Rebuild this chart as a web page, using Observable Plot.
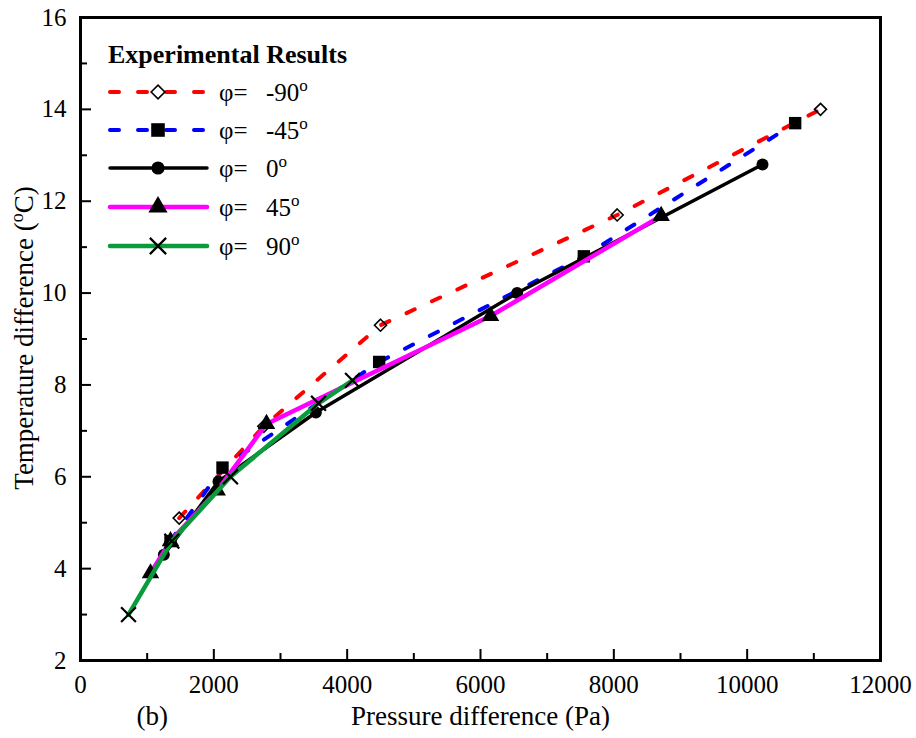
<!DOCTYPE html>
<html><head><meta charset="utf-8">
<script src="https://cdn.jsdelivr.net/npm/d3@7"></script>
<script src="https://cdn.jsdelivr.net/npm/@observablehq/plot@0.6"></script>
<style>body{margin:0;background:#fff}</style>
</head><body><div id="chart"></div>
<script>
// ---- data ----
const seriesLabels = ["-90", "-45", "0", "45", "90"];
const xN90 = [1480, 2750, 4500, 8050, 11100];
const yN90 = [5.1, 7.1, 9.3, 11.7, 14.0];
const xN45 = [1350, 2130, 4480, 7550, 10720];
const yN45 = [4.6, 6.2, 8.5, 10.8, 13.7];
const xZ0 = [1250, 2070, 3530, 6550, 10230];
const yZ0 = [4.3, 5.9, 7.4, 10.0, 12.8];
const xP45 = [1050, 1350, 2050, 2790, 6150, 8710];
const yP45 = [3.9, 4.6, 5.7, 7.15, 9.5, 11.68];
const xP90 = [720, 1370, 2250, 3570, 4080];
const yP90 = [3.0, 4.6, 6.0, 7.6, 8.1];
const majorX = [0, 2000, 4000, 6000, 8000, 10000, 12000];
const minorX = [1000, 3000, 5000, 7000, 9000, 11000];
const majorY = [2, 4, 6, 8, 10, 12, 14, 16];
const minorY = [3, 5, 7, 9, 11, 13, 15];
const legendTitle = "Experimental Results";
const xTitle = "Pressure difference (Pa)";
const panelTag = "(b)";

// ---- styles ----
const styles = [
  {color: "#ff0000", dash: "9,19", width: 4, symbol: "diamond2", fill: "none", stroke: "black", r: 5.4, sw: 1.6},
  {color: "#0000ff", dash: "9,19", width: 4, symbol: "square", fill: "black", stroke: "none", r: 7, sw: 0},
  {color: "#000000", dash: null, width: 3.5, symbol: "circle", fill: "black", stroke: "none", r: 6, sw: 0},
  {color: "#ff00ff", dash: null, width: 4.5, symbol: "triangle", fill: "black", stroke: "none", r: 6.5, sw: 0},
  {color: "#0a9b3c", dash: null, width: 4.5, symbol: "times", fill: "none", stroke: "black", r: 6.8, sw: 2.2}
];
const xsAll = [xN90, xN45, xZ0, xP45, xP90];
const ysAll = [yN90, yN45, yZ0, yP45, yP90];
const series = seriesLabels.map((lab, i) => xsAll[i].map((x, j) => ({s: lab, x, y: ysAll[i][j]})));

const W = 916, H = 738, mL = 80, mR = 36, mT = 17, mB = 78;
const pxPerY = (H - mT - mB) / 14;
const pxPerX = (W - mL - mR) / 12000;
const FONT = "'Liberation Serif', 'Times New Roman', serif";

const marks = [];
// ticks (inward)
marks.push(Plot.ruleX(majorX, {x: d => d, y1: 2, y2: 2 + 11 / pxPerY, stroke: "black", strokeWidth: 2}));
marks.push(Plot.ruleX(minorX, {x: d => d, y1: 2, y2: 2 + 7 / pxPerY, stroke: "black", strokeWidth: 2}));
marks.push(Plot.ruleY(majorY, {y: d => d, x1: 0, x2: 11 / pxPerX, stroke: "black", strokeWidth: 2}));
marks.push(Plot.ruleY(minorY, {y: d => d, x1: 0, x2: 7 / pxPerX, stroke: "black", strokeWidth: 2}));
marks.push(Plot.axisX({ticks: majorX, tickSize: 0, tickPadding: 15, fontSize: 25, label: null, tickFormat: d => String(d)}));
marks.push(Plot.axisY({ticks: majorY, tickSize: 0, tickPadding: 14, fontSize: 25, label: null, tickFormat: d => String(d)}));

series.forEach((data, i) => {
  const st = styles[i];
  marks.push(Plot.line(data, {x: "x", y: "y", stroke: st.color, strokeWidth: st.width,
    strokeDasharray: st.dash, strokeLinecap: "round", strokeLinejoin: "round"}));
  marks.push(Plot.dot(data, {x: "x", y: "y", symbol: () => st.symbol, r: st.r,
    fill: st.fill, stroke: st.stroke, strokeWidth: st.sw}));
});

marks.push(Plot.frame({stroke: "black", strokeWidth: 3}));
marks.push(Plot.text([xTitle], {text: d => d, frameAnchor: "bottom", dy: 64, fontSize: 27, fill: "black"}));
marks.push(Plot.text([panelTag], {text: d => d, frameAnchor: "bottom-left", dx: 56, dy: 64, fontSize: 27, fill: "black"}));

const chart = Plot.plot({
  width: W, height: H,
  marginLeft: mL, marginRight: mR, marginTop: mT, marginBottom: mB,
  x: {domain: [0, 12000], axis: null},
  y: {domain: [2, 16], axis: null},
  symbol: {type: "identity"},
  style: {fontFamily: FONT, background: "white", color: "black", overflow: "visible"},
  marks
});
document.getElementById("chart").appendChild(chart);

const svg = d3.select(chart);
// y-axis title with superscript
const yt = svg.append("text")
  .attr("transform", "translate(33,338) rotate(-90)")
  .attr("text-anchor", "middle")
  .attr("font-family", FONT).attr("font-size", 27).attr("fill", "black");
yt.append("tspan").text("Temperature difference (");
yt.append("tspan").attr("dy", -10).attr("font-size", 18).text("o");
yt.append("tspan").attr("dy", 10).text("C)");

// legend
const symMap = {diamond2: d3.symbolDiamond2, square: d3.symbolSquare, circle: d3.symbolCircle, triangle: d3.symbolTriangle, times: d3.symbolTimes};
const lg = svg.append("g").attr("font-family", FONT).attr("fill", "black").attr("text-anchor", "start");
lg.append("text").attr("x", 108).attr("y", 63).attr("font-size", 26).attr("font-weight", "bold").text(legendTitle);
const ly = [92, 130, 168, 207, 246];
seriesLabels.forEach((lab, i) => {
  const st = styles[i], y = ly[i];
  lg.append("line").attr("x1", 110).attr("x2", 207).attr("y1", y).attr("y2", y)
    .attr("stroke", st.color).attr("stroke-width", st.width)
    .attr("stroke-dasharray", st.dash).attr("stroke-linecap", "round");
  lg.append("path").attr("transform", `translate(158,${y})`)
    .attr("d", d3.symbol(symMap[st.symbol], Math.PI * st.r * st.r * (st.symbol === "diamond2" ? 1.3 : 1.2))())
    .attr("fill", st.symbol === "diamond2" ? "white" : st.fill)
    .attr("stroke", st.stroke).attr("stroke-width", st.sw);
  lg.append("text").attr("x", 219).attr("y", y + 9).attr("font-size", 25).text("φ=");
  const t = lg.append("text").attr("x", 266).attr("y", y + 9).attr("font-size", 25);
  t.append("tspan").text(lab);
  t.append("tspan").attr("dy", -10).attr("font-size", 17).text("o");
});
</script>
</body></html>
